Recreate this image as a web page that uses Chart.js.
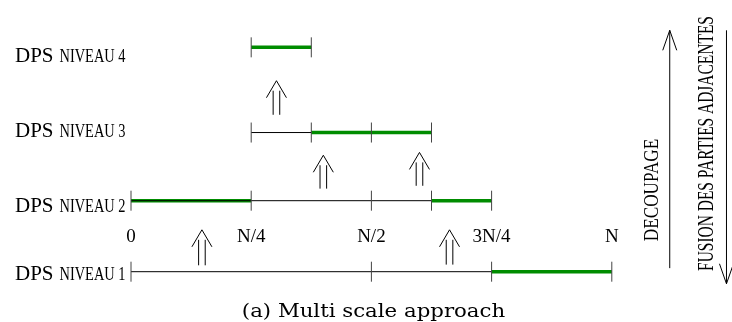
<!DOCTYPE html>
<html><head><meta charset="utf-8">
<script src="https://cdn.jsdelivr.net/npm/chart.js@4/dist/chart.umd.min.js"></script>
<style>html,body{margin:0;padding:0;background:#fff;overflow:hidden}canvas{display:block}</style>
</head><body>
<canvas id="c" width="732" height="322"></canvas>
<script>
// ---------- data (x in quarters of N, y in level units) ----------
const levelNames = ['DPS NIVEAU 1', 'DPS NIVEAU 2', 'DPS NIVEAU 3', 'DPS NIVEAU 4'];
const levelY = [1, 2, 2.96, 4.16];
const xTickValues = [0, 1, 2, 3, 4];
const xTickLabels = ['0', 'N/4', 'N/2', '3N/4', 'N'];
// black (unmerged) segments per level
const blackSegments = [
  [[0, 3]],
  [[0, 2.5]],
  [[1, 1.5]],
  []
];
// green (merged) segments per level
const greenSegments = [
  [[3, 4]],
  [[0, 1], [2.5, 3]],
  [[1.5, 2.5]],
  [[1, 1.5]]
];
// boundary ticks per level
const levelTicks = [
  [0, 2, 3, 4],
  [0, 1, 2, 2.5, 3],
  [1, 1.5, 2, 2.5],
  [1, 1.5]
];
// double arrows between levels
const arrowX = [0.59, 2.65, 1.6, 2.4, 1.21];
const arrowBase = [1.09, 1.1, 2.17, 2.21, 3.21];
const arrowTip = [1.59, 1.59, 2.64, 2.68, 3.69];
const sideTexts = ['DECOUPAGE', 'FUSION DES PARTIES ADJACENTES'];
const caption = '(a) Multi scale approach';

// ---------- layout constants ----------
const GREEN = 'rgb(0,140,0)';
const SERIF = '"Liberation Serif", "Times New Roman", serif';
const labelBaseY = [0.88, 1.845, 2.90, 3.95];
const tickLabelBaseY = 1.42;
const sideArrowX = [4.482, 4.954];
const sideArrowFrom = [1.05, 4.40];
const sideArrowTo = [4.40, 0.83];

const datasets = [];
levelTicks.forEach((ticks, i) => {
  datasets.push({
    type: 'scatter', order: 0,
    data: ticks.map(x => ({x, y: levelY[i]})),
    pointStyle: 'line', rotation: 90, radius: 10, borderWidth: 1,
    borderColor: '#444', backgroundColor: '#444', showLine: false
  });
});
blackSegments.forEach((segs, i) => segs.forEach(s => {
  datasets.push({
    type: 'line', order: 1,
    data: [{x: s[0], y: levelY[i]}, {x: s[1], y: levelY[i]}],
    borderColor: '#000', borderWidth: 1, pointRadius: 0, fill: false, tension: 0
  });
}));
greenSegments.forEach((segs, i) => segs.forEach(s => {
  datasets.push({
    type: 'line', order: 2,
    data: [{x: s[0], y: levelY[i]}, {x: s[1], y: levelY[i]}],
    borderColor: GREEN, borderWidth: 3.5, pointRadius: 0, fill: false, tension: 0,
    borderCapStyle: 'butt'
  });
}));

function text(ctx, str, x, y, font, sx, align, rot) {
  ctx.save();
  ctx.translate(x, y);
  if (rot) ctx.rotate(rot);
  ctx.scale(sx, 1);
  ctx.font = font;
  ctx.textAlign = align;
  ctx.textBaseline = 'alphabetic';
  ctx.fillStyle = '#000';
  ctx.fillText(str, 0, 0);
  const w = ctx.measureText(str).width * sx;
  ctx.restore();
  return w;
}

const deco = {
  id: 'deco',
  afterDatasetsDraw(chart) {
    const ctx = chart.ctx, xs = chart.scales.x, ys = chart.scales.y;
    ctx.save();
    ctx.strokeStyle = '#000';
    ctx.lineWidth = 1;
    // double arrows
    arrowX.forEach((ax, i) => {
      const x = xs.getPixelForValue(ax);
      const yb = ys.getPixelForValue(arrowBase[i]);
      const yt = ys.getPixelForValue(arrowTip[i]);
      ctx.beginPath();
      ctx.moveTo(x - 3.3, yb); ctx.lineTo(x - 3.3, yt + 10);
      ctx.moveTo(x + 3.3, yb); ctx.lineTo(x + 3.3, yt + 10);
      ctx.moveTo(x - 10, yt + 17); ctx.lineTo(x, yt); ctx.lineTo(x + 10, yt + 17);
      ctx.stroke();
    });
    // side arrows
    sideArrowX.forEach((ax, i) => {
      const x = xs.getPixelForValue(ax);
      const y0 = ys.getPixelForValue(sideArrowFrom[i]);
      const y1 = ys.getPixelForValue(sideArrowTo[i]);
      const d = y1 < y0 ? 1 : -1;
      ctx.beginPath();
      ctx.moveTo(x, y0); ctx.lineTo(x, y1);
      ctx.moveTo(x - 7, y1 + d * 20); ctx.lineTo(x, y1); ctx.lineTo(x + 7, y1 + d * 20);
      ctx.stroke();
    });
    // level labels
    levelNames.forEach((name, i) => {
      const y = ys.getPixelForValue(labelBaseY[i]);
      const parts = name.split(' ');
      const x0 = 15;
      const w = text(ctx, parts[0], x0, y, '21px ' + SERIF, 1, 'left');
      text(ctx, parts.slice(1).join(' '), x0 + w + 6, y, '18px ' + SERIF, 0.8, 'left');
    });
    // x tick labels
    const ty = ys.getPixelForValue(tickLabelBaseY);
    xTickValues.forEach((v, i) => {
      text(ctx, xTickLabels[i], xs.getPixelForValue(v), ty, '19px ' + SERIF, 1, 'center');
    });
    // side texts (rotated)
    text(ctx, sideTexts[0], 658, 190, '22px ' + SERIF, 0.78, 'center', -Math.PI / 2);
    text(ctx, sideTexts[1], 713, 143.5, '24px ' + SERIF, 0.644, 'center', -Math.PI / 2);
    // caption
    text(ctx, caption, 373.5, 316.5, '18.5px "DejaVu Serif"', 1.15, 'center');
    ctx.restore();
  }
};

new Chart(document.getElementById('c'), {
  type: 'scatter',
  data: { datasets },
  options: {
    responsive: false,
    animation: false,
    events: [],
    clip: false,
    layout: { autoPadding: false, padding: { left: 131, right: 0, top: 0, bottom: 0 } },
    plugins: { legend: { display: false }, tooltip: { enabled: false }, title: { display: false } },
    scales: {
      x: { type: 'linear', min: 0, max: 5, display: false },
      y: { type: 'linear', min: 1 - (322 - 271.7) / 71, max: 1 + 271.7 / 71, display: false }
    }
  },
  plugins: [deco]
});
</script>
</body></html>
